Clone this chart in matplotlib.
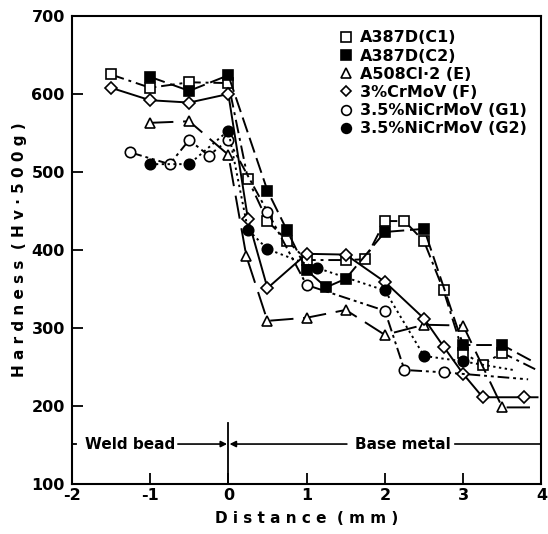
import matplotlib
matplotlib.use("Agg")
import matplotlib.pyplot as plt

plt.rcParams['font.family'] = ['DejaVu Sans']

# Hardness traverses across the weld fusion line (distance in mm, Hv 500 g)
c1_x = [-1.5, -1.0, -0.5, 0.0, 0.25, 0.5, 0.75, 1.0, 1.5, 1.75, 2.0, 2.25, 2.5, 2.75, 3.0, 3.25, 3.5, 3.92]
c1_y = [625, 608, 615, 614, 491, 437, 412, 387, 387, 388, 437, 437, 411, 348, 268, 253, 268, 247]

c2_x = [-1.0, -0.5, 0.0, 0.5, 0.75, 1.0, 1.25, 1.5, 2.0, 2.5, 3.0, 3.5, 3.87]
c2_y = [622, 604, 624, 476, 425, 374, 352, 363, 423, 427, 278, 278, 258]

e_x = [-1.0, -0.5, 0.0, 0.23, 0.5, 1.0, 1.5, 2.0, 2.5, 3.0, 3.5, 3.94]
e_y = [563, 565, 522, 392, 309, 313, 323, 291, 304, 303, 198, 198]

f_x = [-1.5, -1.0, -0.5, 0.0, 0.25, 0.5, 1.0, 1.5, 2.0, 2.5, 2.75, 3.0, 3.25, 3.78, 3.95]
f_y = [608, 592, 589, 600, 440, 351, 395, 394, 359, 312, 276, 241, 211, 211, 211]

g1_x = [-1.25, -0.75, -0.5, -0.25, 0.0, 0.5, 1.0, 2.0, 2.25, 2.75, 3.83]
g1_y = [525, 510, 541, 521, 541, 449, 355, 322, 246, 243, 234]

g2_x = [-1.0, -0.5, 0.0, 0.25, 0.5, 1.13, 2.0, 2.5, 3.0, 3.64]
g2_y = [510, 510, 553, 426, 401, 377, 348, 264, 257, 246]

labels = ["A387D(C1)", "A387D(C2)", "A508Cl·2 (E)", "3%CrMoV (F)",
          "3.5%NiCrMoV (G1)", "3.5%NiCrMoV (G2)"]

x_ticks = [-2, -1, 0, 1, 2, 3, 4]
y_ticks = [100, 200, 300, 400, 500, 600, 700]

series = [
    (c1_x, c1_y, 's', 'white', (0, (7, 2.5, 1.5, 2.5))),
    (c2_x, c2_y, 's', 'black', (0, (8, 3))),
    (e_x, e_y, '^', 'white', (0, (12, 5))),
    (f_x, f_y, 'D', 'white', '-'),
    (g1_x, g1_y, 'o', 'white', (0, (6, 2, 1.5, 2, 1.5, 2))),
    (g2_x, g2_y, 'o', 'black', (0, (1.2, 1.8))),
]

fig = plt.figure(figsize=(5.48, 5.34), dpi=100)
ax = fig.add_axes([0.131, 0.094, 0.857, 0.876])

handles = []
for (xs, ys, mk, fc, ls), lab in zip(series, labels):
    ms = 6.0 if mk == 'D' else 7.5
    # last point of each traverse is the trailing line end, drawn without a marker
    ax.plot(xs, ys, color='black', linestyle=ls, linewidth=1.4,
            marker=mk, markersize=ms, markerfacecolor=fc,
            markeredgecolor='black', markeredgewidth=1.2,
            markevery=list(range(len(xs) - 1)))
    h, = ax.plot([], [], linestyle='none', marker=mk, markersize=ms - 0.5,
                 markerfacecolor=fc, markeredgecolor='black',
                 markeredgewidth=1.2, label=lab)
    handles.append(h)

ax.set_xlim(-2, 4)
ax.set_ylim(100, 700)
ax.set_xticks(x_ticks)
ax.set_yticks(y_ticks)
ax.set_xticklabels([str(v) for v in x_ticks], fontsize=11.5, fontweight='bold')
ax.set_yticklabels([str(v) for v in y_ticks], fontsize=11.5, fontweight='bold')
ax.tick_params(axis='x', direction='in', length=8, width=1.3, pad=3)
ax.tick_params(axis='y', direction='in', length=8, width=1.3, pad=5)
for sp in ax.spines.values():
    sp.set_linewidth(1.5)

ax.set_xlabel("D i s t a n c e  ( m m )", fontsize=11, fontweight='bold', labelpad=6)
ax.set_ylabel("H a r d n e s s  ( H v · 5 0 0 g )", fontsize=11, fontweight='bold', labelpad=3)

# fusion line and zone annotation
ax.plot([0, 0], [100, 178], color='black', linewidth=1.3)
ax.plot([-2, -1.95], [151, 151], color='black', linewidth=1.3)
ax.text(-1.83, 151, "Weld bead", fontsize=11, fontweight='bold', va='center', ha='left')
ax.annotate("", xy=(0.02, 151), xytext=(-0.68, 151),
            arrowprops=dict(arrowstyle='-|>', color='black', lw=1.2, mutation_scale=9))
ax.annotate("", xy=(-0.02, 151), xytext=(1.55, 151),
            arrowprops=dict(arrowstyle='-|>', color='black', lw=1.2, mutation_scale=9))
ax.text(1.62, 151, "Base metal", fontsize=11, fontweight='bold', va='center', ha='left')
ax.plot([2.9, 4.0], [151, 151], color='black', linewidth=1.2)

ax.legend(handles=handles, loc='upper right', bbox_to_anchor=(1.0, 1.0),
          frameon=False, prop={'weight': 'bold', 'size': 11.5},
          handletextpad=0.3, labelspacing=0.2, borderpad=0.4, handlelength=1.2)

fig.savefig("out.png", dpi=100)
